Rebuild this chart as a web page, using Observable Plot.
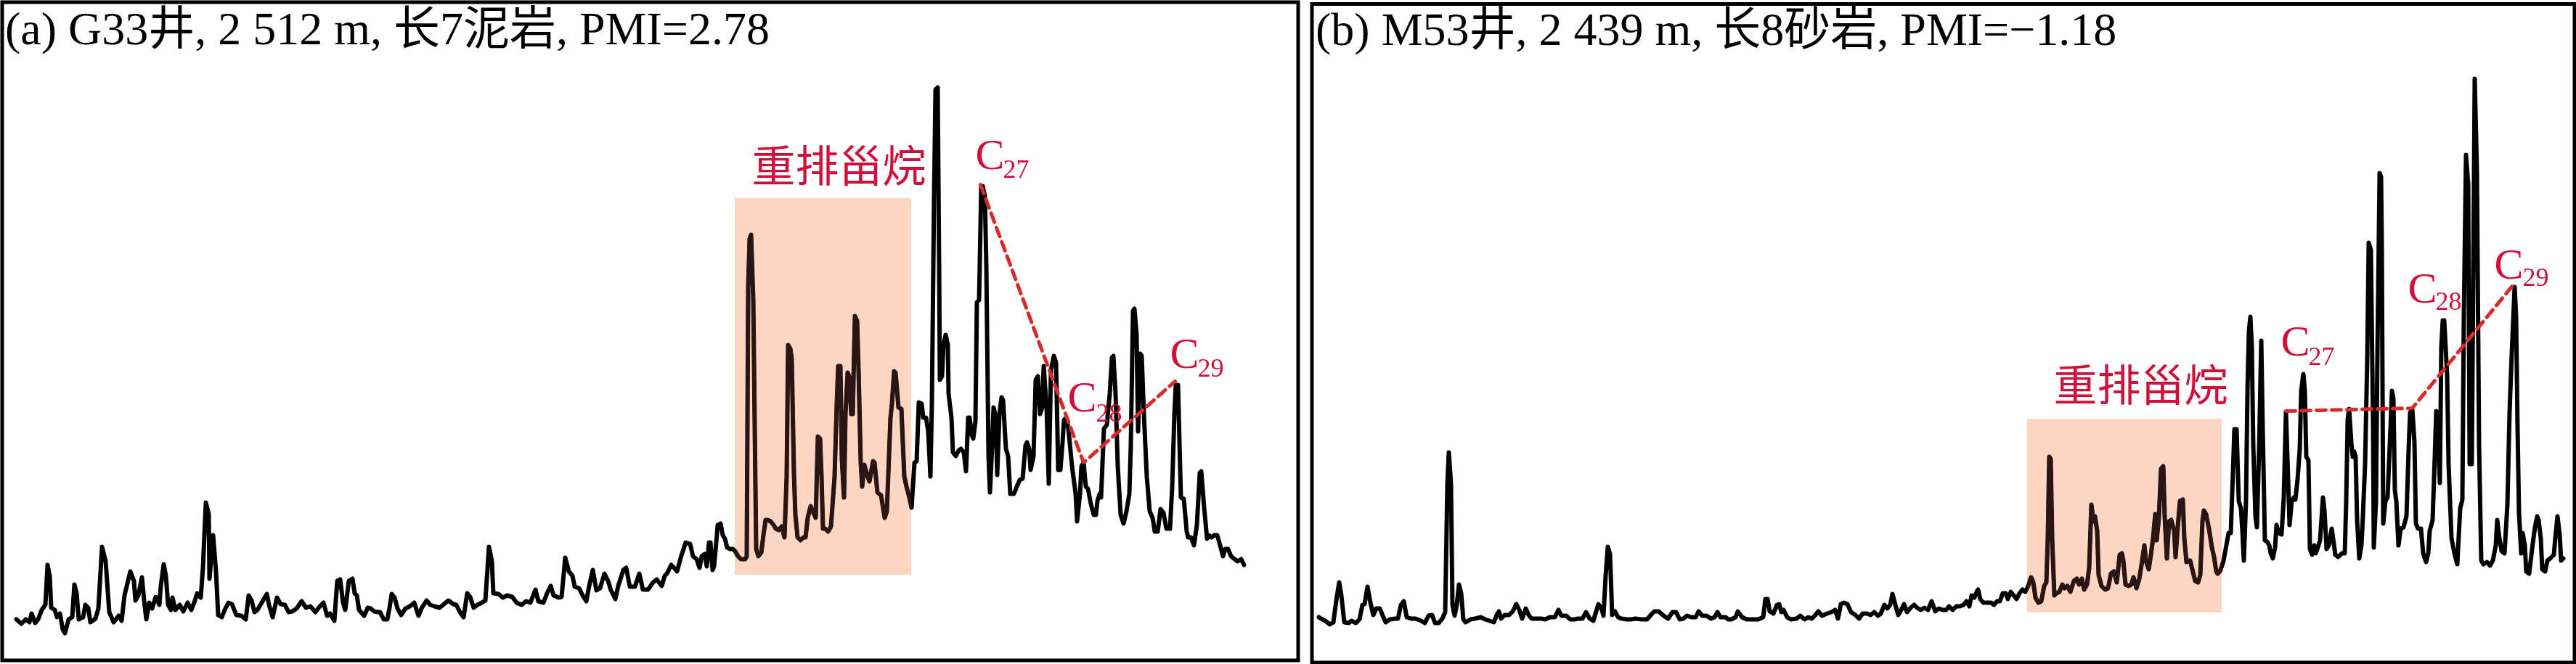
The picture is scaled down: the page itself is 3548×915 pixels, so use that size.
<!DOCTYPE html>
<html><head><meta charset="utf-8">
<script src="https://cdn.jsdelivr.net/npm/d3@7"></script>
<script src="https://cdn.jsdelivr.net/npm/@observablehq/plot@0.6"></script>
<style>
html,body{margin:0;padding:0;background:#fff;}
#wrap{display:flex;width:3548px;height:915px;overflow:hidden;}
#wrap svg{display:block;flex:none;}
</style></head><body><div id="wrap"></div>
<script>
// retention (arbitrary units) , abundance (arbitrary units)
const traceA = [[22,62],[29,56],[35,62],[40,58],[43,70],[48,57],[52,62],[57,75],[62,82],[65,137],[68,122],[70,78],[75,75],[78,65],[82,70],[86,48],[89,43],[94,62],[99,65],[102,110],[105,98],[108,62],[114,65],[117,82],[121,78],[124,58],[131,63],[135,77],[140,162],[145,142],[150,72],[156,58],[163,67],[167,60],[171,95],[179,128],[184,115],[186,88],[190,95],[195,120],[198,88],[201,62],[205,85],[209,77],[214,93],[219,82],[221,108],[225,138],[228,122],[231,82],[235,75],[237,92],[241,75],[247,82],[252,73],[258,85],[263,75],[268,88],[271,98],[276,92],[279,133],[283,223],[287,207],[288,118],[293,178],[297,128],[300,68],[305,65],[309,75],[314,85],[319,83],[325,68],[332,67],[338,62],[342,95],[346,88],[350,72],[354,75],[360,85],[367,97],[370,82],[375,65],[381,92],[386,83],[392,82],[397,72],[402,73],[408,77],[415,87],[421,78],[427,80],[434,72],[440,80],[445,85],[450,67],[454,70],[460,60],[464,115],[468,117],[472,85],[475,75],[480,115],[485,118],[488,98],[491,95],[494,75],[501,67],[506,78],[510,77],[515,73],[520,72],[523,72],[528,62],[533,62],[536,78],[539,97],[543,92],[547,77],[552,68],[558,77],[564,80],[570,85],[576,67],[580,77],[587,88],[592,82],[598,80],[605,78],[611,83],[617,88],[624,83],[628,82],[633,72],[638,65],[643,98],[647,93],[652,78],[657,82],[663,85],[668,88],[673,162],[677,142],[679,98],[686,97],[692,92],[698,95],[705,93],[711,85],[718,82],[724,87],[730,85],[737,103],[741,87],[748,85],[753,98],[758,108],[762,95],[769,92],[773,93],[778,147],[783,128],[788,122],[791,107],[797,105],[802,95],[807,87],[811,108],[816,130],[821,102],[826,105],[832,125],[837,115],[841,102],[847,90],[851,108],[858,130],[862,133],[867,107],[874,107],[880,125],[885,103],[892,103],[899,113],[904,117],[911,108],[915,122],[918,125],[924,137],[928,133],[932,128],[938,150],[944,168],
[950,166],[954,149],[959,145],[963,133],[966,149],[970,152],[973,135],[976,168],[978,168],[981,130],[983,135],[986,168],[988,192],[992,194],[995,178],[998,173],[1001,161],[1005,159],[1009,159],[1012,156],[1016,149],[1020,145],[1026,145],[1028,149],[1030,521],[1032,587],[1034,592],[1037,502],[1039,330],[1041,159],[1044,149],[1048,154],[1051,178],[1054,199],[1057,199],[1061,197],[1065,192],[1068,187],[1072,185],[1076,190],[1080,175],[1083,259],[1085,440],[1088,435],[1090,421],[1093,264],[1095,206],[1098,175],[1102,171],[1106,175],[1109,175],[1112,202],[1116,218],[1119,211],[1123,202],[1126,314],[1129,311],[1131,259],[1133,187],[1136,187],[1140,183],[1144,190],[1149,259],[1152,359],[1154,411],[1157,411],[1159,283],[1162,230],[1164,345],[1167,402],[1169,397],[1172,345],[1174,345],[1177,480],[1180,473],[1182,406],[1185,278],[1187,245],[1190,275],[1193,264],[1197,252],[1202,280],[1204,278],[1208,237],[1213,233],[1218,202],[1221,211],[1226,340],[1228,359],[1231,404],[1233,402],[1237,354],[1241,352],[1245,259],[1248,245],[1252,230],[1255,216],[1259,278],[1262,280],[1265,361],[1269,359],[1271,340],[1275,340],[1278,321],[1281,259],[1283,359],[1286,645],[1288,792],[1291,795],[1293,549],[1294,392],[1297,397],[1299,440],[1302,454],[1305,440],[1306,373],[1310,340],[1312,292],[1316,287],[1320,295],[1323,297],[1327,292],[1330,266],[1333,340],[1335,340],[1338,316],[1340,311],[1343,335],[1345,499],[1348,502],[1351,659],[1353,659],[1356,645],[1358,549],[1361,287],[1363,237],[1366,302],[1368,354],[1371,340],[1373,261],[1376,345],[1379,368],[1381,364],[1385,297],[1388,287],[1391,235],[1396,235],[1400,245],[1404,254],[1408,256],[1412,302],[1414,306],[1417,297],[1419,268],[1423,287],[1426,392],[1429,397],[1432,345],[1435,354],[1437,411],[1441,354],[1444,249],[1447,406],[1451,425],[1454,416],[1457,268],[1460,268],[1463,306],[1465,337],[1468,340],[1471,325],[1476,273],[1481,235],[1483,197],[1487,235],[1489,273],[1492,278],[1495,245],[1498,242],[1502,221],[1506,206],[1509,206],[1511,225],[1514,235],[1516,230],[1520,325],[1524,330],[1528,373],[1531,423],[1533,425],[1536,373],[1539,273],[1543,206],[1547,194],[1551,211],[1555,235],[1557,302],[1560,487],[1562,490],[1565,454],[1567,321],[1570,428],[1572,425],[1575,345],[1579,259],[1583,211],[1587,202],[1590,183],[1594,183],[1598,214],[1602,209],[1606,187],[1611,187],[1614,245],[1617,345],[1619,385],[1622,385],[1626,230],[1630,228],[1634,183],[1636,175],[1640,175],[1644,164],[1648,192],[1652,264],[1654,266],[1658,216],[1662,173],[1664,178],[1668,175],[1672,178],[1676,178],[1680,164],[1684,149],[1687,159],[1691,159],[1695,149],[1700,145],[1704,142],[1709,145],[1713,137]];

const traceB = [[1816,65],[1819,63],[1825,60],[1831,55],[1836,58],[1840,88],[1844,113],[1847,95],[1851,58],[1857,57],[1861,60],[1867,57],[1872,62],[1876,82],[1879,83],[1883,107],[1887,85],[1891,68],[1895,77],[1900,77],[1904,67],[1908,58],[1914,62],[1921,63],[1925,63],[1929,82],[1933,87],[1937,65],[1943,63],[1949,63],[1957,60],[1962,57],[1967,67],[1972,68],[1976,57],[1981,57],[1986,63],[1990,72],[1993,248],[1995,292],[1998,248],[2000,82],[2003,67],[2006,82],[2009,110],[2012,98],[2015,62],[2018,58],[2025,62],[2031,63],[2039,65],[2045,62],[2051,60],[2057,58],[2061,68],[2064,73],[2067,63],[2072,68],[2078,68],[2083,73],[2088,83],[2092,75],[2096,63],[2101,77],[2105,68],[2109,63],[2115,63],[2122,63],[2128,62],[2134,65],[2141,65],[2146,75],[2150,67],[2157,67],[2162,62],[2168,62],[2173,63],[2179,63],[2184,72],[2189,63],[2194,60],[2198,73],[2201,83],[2205,78],[2208,67],[2211,122],[2214,162],[2217,152],[2220,68],[2224,73],[2228,65],[2233,63],[2240,62],[2246,62],[2252,63],[2261,62],[2268,62],[2275,70],[2278,73],[2284,73],[2291,67],[2297,63],[2303,72],[2308,72],[2313,62],[2318,63],[2323,67],[2329,65],[2335,65],[2339,73],[2344,67],[2350,67],[2356,63],[2361,65],[2365,72],[2369,65],[2376,65],[2380,62],[2384,62],[2390,65],[2393,73],[2399,65],[2405,62],[2412,62],[2421,62],[2428,65],[2431,90],[2434,90],[2437,73],[2442,70],[2447,82],[2450,83],[2453,72],[2456,75],[2461,65],[2466,62],[2474,63],[2479,67],[2485,62],[2490,65],[2495,63],[2499,67],[2504,73],[2509,67],[2516,70],[2522,72],[2527,75],[2531,63],[2535,83],[2539,85],[2544,83],[2549,72],[2555,68],[2560,63],[2565,70],[2571,70],[2576,68],[2581,72],[2586,67],[2590,70],[2595,82],[2599,77],[2603,82],[2606,97],[2610,82],[2614,68],[2618,75],[2622,83],[2626,72],[2631,78],[2636,82],[2640,78],[2645,75],[2650,78],[2655,75],[2660,87],[2665,73],[2670,77],[2675,75],[2680,75],[2684,80],[2689,75],[2694,80],[2699,80],
[2704,82],[2708,87],[2712,80],[2715,95],[2719,92],[2722,100],[2724,103],[2727,90],[2731,85],[2737,85],[2742,85],[2746,82],[2750,87],[2754,87],[2758,98],[2762,98],[2765,90],[2769,100],[2773,95],[2777,90],[2781,98],[2785,103],[2789,100],[2793,108],[2797,120],[2800,113],[2803,92],[2807,85],[2811,87],[2815,108],[2818,113],[2820,174],[2822,286],[2824,283],[2826,174],[2829,95],[2832,98],[2836,100],[2840,110],[2843,105],[2847,108],[2851,100],[2856,115],[2860,118],[2863,110],[2867,118],[2870,103],[2874,110],[2877,133],[2880,220],[2883,197],[2885,204],[2888,184],[2890,123],[2894,108],[2899,103],[2903,105],[2907,125],[2911,128],[2915,113],[2919,151],[2922,153],[2924,143],[2927,110],[2931,108],[2935,110],[2938,120],[2942,105],[2946,118],[2950,143],[2953,164],[2955,143],[2959,131],[2962,151],[2965,174],[2968,207],[2970,171],[2973,202],[2976,270],[2979,273],[2981,204],[2984,146],[2987,197],[2990,199],[2994,184],[2996,148],[2999,189],[3002,225],[3006,227],[3008,174],[3011,141],[3014,143],[3016,143],[3019,131],[3023,115],[3027,113],[3030,123],[3033,197],[3035,212],[3038,207],[3042,187],[3046,161],[3049,148],[3052,128],[3054,125],[3057,128],[3060,136],[3062,143],[3065,159],[3069,181],[3072,181],[3075,265],[3077,324],[3080,324],[3083,225],[3086,215],[3088,184],[3090,143],[3093,225],[3095,377],[3097,459],[3099,479],[3101,438],[3103,301],[3106,204],[3108,189],[3111,296],[3114,446],[3116,326],[3119,171],[3122,169],[3125,164],[3127,153],[3130,146],[3133,161],[3135,192],[3138,181],[3142,179],[3145,230],[3148,348],[3150,286],[3153,192],[3156,225],[3159,230],[3161,227],[3164,255],[3167,296],[3169,377],[3172,400],[3174,377],[3176,286],[3179,281],[3181,159],[3184,151],[3187,164],[3189,153],[3192,161],[3195,171],[3199,230],[3201,212],[3204,159],[3207,164],[3211,187],[3214,166],[3216,151],[3220,148],[3225,153],[3229,153],[3231,225],[3233,337],[3235,352],[3238,306],[3240,286],[3242,293],[3244,286],[3246,199],[3249,146],[3252,164],[3254,204],[3257,276],[3260,423],[3262,581],[3265,571],[3268,326],[3269,161],[3272,225],[3274,428],[3277,677],[3279,672],[3280,581],[3282,194],[3285,225],[3288,230],[3292,326],[3294,377],[3296,367],[3298,240],[3300,225],[3303,164],[3306,187],[3310,189],[3314,204],[3317,296],[3319,347],[3322,352],[3325,306],[3327,194],[3330,187],[3334,187],[3337,153],[3341,141],[3344,153],[3346,184],[3350,199],[3353,286],[3355,349],[3358,301],[3360,250],[3362,438],[3364,474],[3366,474],[3370,398],[3372,276],[3376,174],[3380,153],[3384,138],[3388,215],[3391,227],[3393,479],[3396,702],[3399,662],[3401,276],[3404,276],[3406,540],[3408,807],[3411,682],[3414,301],[3417,143],[3420,138],[3425,141],[3429,136],[3433,143],[3437,164],[3439,199],[3442,174],[3445,156],[3449,153],[3453,220],[3456,347],[3459,428],[3463,520],[3465,479],[3467,326],[3469,209],[3472,153],[3474,181],[3477,164],[3479,128],[3483,125],[3487,159],[3491,189],[3494,204],[3496,199],[3499,174],[3501,131],[3505,128],[3508,143],[3512,146],[3517,151],[3519,174],[3522,204],[3525,179],[3527,143],[3530,146]];

const panelTitles = ["(a) G33井, 2 512 m, 长7泥岩, PMI=2.78", "(b) M53井, 2 439 m, 长8砂岩, PMI=−1.18"];
const groupName = "重排甾烷";
// rearranged sterane window (retention range, abundance range)
const windowA = [{x1: 1012, x2: 1255, y1: 123, y2: 642}];
const windowB = [{x1: 2792, x2: 3060, y1: 71, y2: 338}];
// C27 - C28 - C29 regular sterane peaks
const steraneA = [[1350, 661], [1492, 278], [1618, 390]];
const steraneB = [[3148, 349], [3322, 353], [3462, 524]];
const carbonNumbers = ["27", "28", "29"];
// label anchors: [C x, C y, subscript x, subscript y]
const labelPosA = [[1343, 683, 1381, 671], [1470, 349, 1509, 335], [1611, 409, 1649, 397]];
const labelPosB = [[3141, 426, 3179, 413], [3316, 499, 3354, 489], [3435, 532, 3474, 522]];
const groupPosA = [1035, 684];
const groupPosB = [2828, 382];

const SERIF = "'Liberation Serif','Times New Roman','Noto Sans CJK SC',serif";
const RED = "#d0103a";
const DASH = "#d62b2b";

function panel(cfg) {
  const pts = cfg.trace.map(([t, v]) => ({t, v}));
  const labs = cfg.labelPos.map((p, i) => ({x: p[0], y: p[1], sx: p[2], sy: p[3], sub: carbonNumbers[i]}));
  return Plot.plot({
    width: cfg.width, height: 915,
    marginLeft: cfg.ml, marginRight: cfg.mr, marginTop: cfg.mt, marginBottom: cfg.mb,
    x: {domain: cfg.xd, axis: null},
    y: {domain: cfg.yd, axis: null},
    style: {background: "#fff", overflow: "visible"},
    marks: [
      Plot.rect(cfg.win, {x1: "x1", x2: "x2", y1: "y1", y2: "y2", fill: "#fcd5c3"}),
      Plot.line(pts, {x: "t", y: "v", stroke: "#000", strokeWidth: 6, strokeLinejoin: "round", strokeLinecap: "round"}),
      Plot.rect(cfg.win, {x1: "x1", x2: "x2", y1: "y1", y2: "y2", fill: "#2b1414", mixBlendMode: "lighten"}),
      Plot.line(cfg.ster, {x: d => d[0], y: d => d[1], stroke: DASH, strokeWidth: 5, strokeDasharray: "13,8"}),
      Plot.text([groupName], {x: cfg.gpos[0], y: cfg.gpos[1], text: d => d, textAnchor: "start", lineAnchor: "middle", fontSize: 60, fill: RED, fontFamily: SERIF}),
      Plot.text(labs, {x: "x", y: "y", text: () => "C", textAnchor: "start", lineAnchor: "bottom", fontSize: 60, fill: RED, fontFamily: SERIF}),
      Plot.text(labs, {x: "sx", y: "sy", text: "sub", textAnchor: "start", lineAnchor: "bottom", fontSize: 36, fill: RED, fontFamily: SERIF}),
      Plot.frame({stroke: "#000", strokeWidth: 5}),
      Plot.text([cfg.title], {frameAnchor: "top-left", text: d => d, dx: cfg.tdx, dy: cfg.tdy, lineAnchor: "top", textAnchor: "start", fontSize: 64, fill: "#000", fontFamily: SERIF})
    ]
  });
}

const wrap = document.getElementById("wrap");
wrap.appendChild(panel({trace: traceA, win: windowA, ster: steraneA, labelPos: labelPosA, gpos: groupPosA, title: panelTitles[0],
  width: 1792, ml: 2.5, mr: 4.5, mt: 2.5, mb: 5.5, xd: [2.5, 1787.5], yd: [5.5, 912.5], tdx: 4, tdy: 13}));
wrap.appendChild(panel({trace: traceB, win: windowB, ster: steraneB, labelPos: labelPosB, gpos: groupPosB, title: panelTitles[1],
  width: 1756, ml: 14.5, mr: 2.5, mt: 5, mb: 2.5, xd: [1806.5, 3545.5], yd: [2.5, 910], tdx: 5, tdy: 11}));
</script></body></html>
